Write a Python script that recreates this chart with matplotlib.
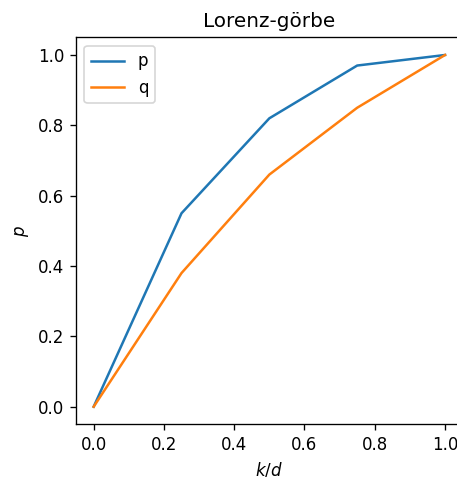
import matplotlib
matplotlib.use("Agg")
import matplotlib.pyplot as plt

x = [0.0, 0.25, 0.5, 0.75, 1.0]
p_vals = [0.0, 0.55, 0.82, 0.97, 1.0]
q_vals = [0.0, 0.38, 0.66, 0.85, 1.0]

W, H, DPI = 457, 477, 120
fig = plt.figure(figsize=(W / DPI, H / DPI), dpi=DPI)
left, right = 76.1 / W, 462.6 / W
bottom, top = (H - 424.3) / H, (H - 37.4) / H
ax = fig.add_axes([left, bottom, right - left, top - bottom])

ax.plot(x, p_vals, label="p")
ax.plot(x, q_vals, label="q")
ax.set_title("Lorenz-görbe")
ax.set_xlabel("$k/d$")
ax.set_ylabel("$p$")
ax.legend(loc="upper left")

fig.savefig("out.png", dpi=DPI)
